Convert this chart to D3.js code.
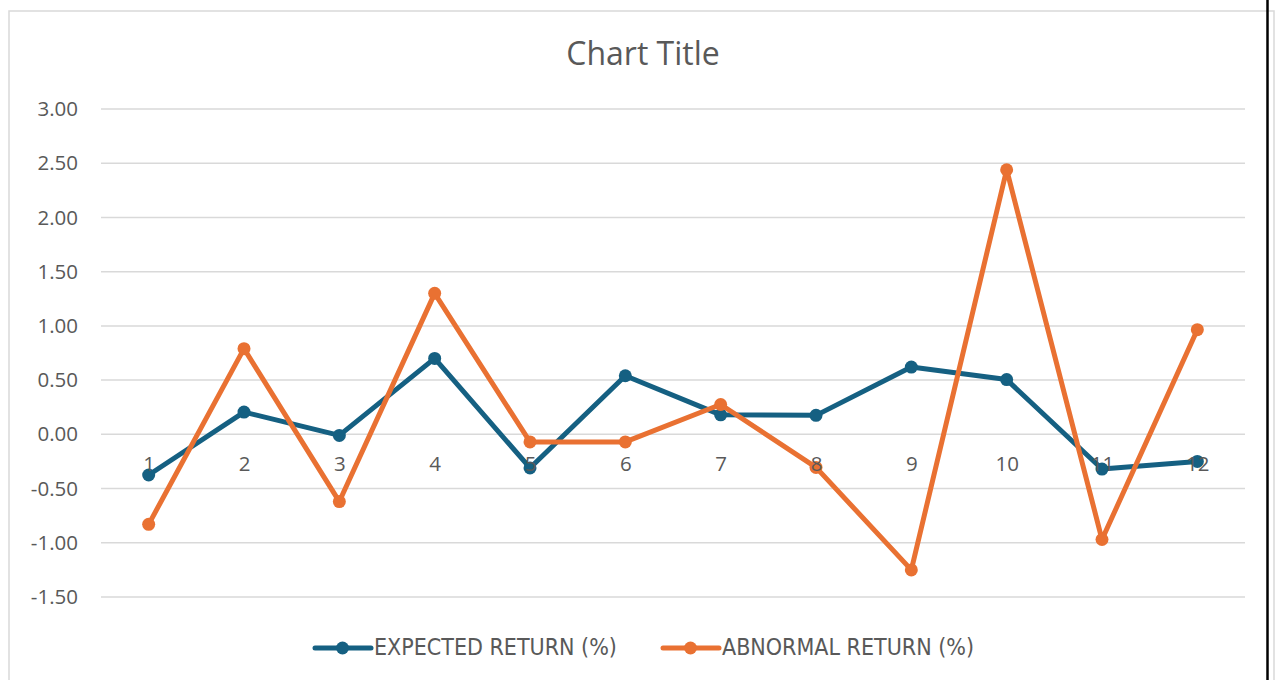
<!DOCTYPE html>
<html>
<head>
<meta charset="utf-8">
<script src="https://cdn.jsdelivr.net/npm/d3@7"></script>
<style>
    body { margin: 0; background: #ffffff; }
    text { fill: #595959; }
</style>
</head>
<body>
<div id="vis"></div>
<script>
// set the width and height
var width = 1277;
var height = 680;

var periods = [1, 2, 3, 4, 5, 6, 7, 8, 9, 10, 11, 12];
var expectedReturn = [-0.375, 0.205, -0.01, 0.70, -0.31, 0.54, 0.18, 0.175, 0.62, 0.505, -0.32, -0.25];
var abnormalReturn = [-0.83, 0.79, -0.62, 1.30, -0.07, -0.07, 0.275, -0.305, -1.25, 2.44, -0.97, 0.965];
var yTicks = [-1.5, -1, -0.5, 0, 0.5, 1, 1.5, 2, 2.5, 3];
var seriesNames = ["EXPECTED RETURN (%)", "ABNORMAL RETURN (%)"];
var seriesColours = ["#156082", "#E97132"];

var margin = {
    top: 109,
    bottom: 83,
    left: 101,
    right: 32
};

var svg = d3.select('#vis')
    .append('svg')
    .attr('width', width)
    .attr('height', height);

// chart frame
svg.append('rect')
    .attr('x', 9)
    .attr('y', 11)
    .attr('width', 1265)
    .attr('height', 700)
    .attr('fill', 'white')
    .attr('stroke', '#d9d9d9')
    .attr('stroke-width', 1.5);

// the black page edge on the right
svg.append('line')
    .attr('x1', 1267.5).attr('x2', 1267.5)
    .attr('y1', 0).attr('y2', height)
    .attr('stroke', 'black')
    .attr('stroke-width', 2.5);

svg.append('text')
    .attr('x', 643)
    .attr('y', 65)
    .attr('text-anchor', 'middle')
    .style('font-family', '"Open Sans", "Liberation Sans", sans-serif')
    .style('font-size', '32px')
    .text('Chart Title');

var x_scale = d3.scalePoint()
    .domain(periods)
    .range([margin.left, width - margin.right])
    .padding(0.5);

var y_scale = d3.scaleLinear()
    .domain([-1.5, 3])
    .range([height - margin.bottom, margin.top]);

// gridlines
svg.append('g')
    .selectAll('line')
    .data(yTicks)
    .enter()
    .append('line')
    .attr('x1', margin.left)
    .attr('x2', width - margin.right)
    .attr('y1', function (d) { return y_scale(d); })
    .attr('y2', function (d) { return y_scale(d); })
    .attr('stroke', '#d9d9d9')
    .attr('stroke-width', 1.5);

// y axis labels, plain hyphen for the minus like excel
var y_axis = d3.axisLeft(y_scale)
    .tickValues(yTicks)
    .tickFormat(function (d) { return d.toFixed(2); })
    .tickSize(0)
    .tickPadding(23);

svg.append('g')
    .attr('class', 'y axis')
    .attr('transform', 'translate(' + margin.left + ',0)')
    .call(y_axis)
    .call(function (g) { g.select('.domain').remove(); })
    .selectAll('text')
    .attr('fill', '#595959')
    .style('font-family', '"Open Sans", "Liberation Sans", sans-serif')
    .style('font-size', '20.5px');

var series = [expectedReturn, abnormalReturn];

var valueline = d3.line()
    .x(function (d, i) { return x_scale(periods[i]); })
    .y(function (d) { return y_scale(d); });

series.forEach(function (values, k) {
    svg.append('path')
        .datum(values)
        .attr('fill', 'none')
        .attr('stroke', seriesColours[k])
        .attr('stroke-width', 5)
        .attr('stroke-linejoin', 'round')
        .attr('stroke-linecap', 'round')
        .attr('d', valueline);

    svg.selectAll('.dot' + k)
        .data(values)
        .enter()
        .append('circle')
        .attr('class', 'dot' + k)
        .attr('cx', function (d, i) { return x_scale(periods[i]); })
        .attr('cy', function (d) { return y_scale(d); })
        .attr('r', 6.5)
        .attr('fill', seriesColours[k]);
});

// category labels sit just under the zero line
var x_axis = d3.axisBottom(x_scale)
    .tickSize(0)
    .tickPadding(22);

svg.append('g')
    .attr('class', 'x axis')
    .attr('transform', 'translate(0,' + y_scale(0) + ')')
    .call(x_axis)
    .call(function (g) { g.select('.domain').remove(); })
    .selectAll('text')
    .attr('fill', '#595959')
    .style('font-family', '"Open Sans", "Liberation Sans", sans-serif')
    .style('font-size', '20.5px');

// legend
var legendX = [315, 663];

var legend = svg.selectAll('.lineLegend')
    .data(seriesNames)
    .enter()
    .append('g')
    .attr('class', 'lineLegend')
    .attr('transform', function (d, i) {
        return 'translate(' + legendX[i] + ',648)';
    });

legend.append('line')
    .attr('x1', 0).attr('x2', 56)
    .attr('y1', 0).attr('y2', 0)
    .attr('stroke', function (d, i) { return seriesColours[i]; })
    .attr('stroke-width', 5)
    .attr('stroke-linecap', 'round');

legend.append('circle')
    .attr('cx', 27.5)
    .attr('r', 6.5)
    .attr('fill', function (d, i) { return seriesColours[i]; });

legend.append('text')
    .attr('x', 59)
    .attr('y', 7)
    .style('font-family', '"DejaVu Sans Condensed", "DejaVu Sans", sans-serif')
    .style('font-stretch', 'condensed')
    .style('font-size', '23px')
    .text(function (d) { return d; });
</script>
</body>
</html>
